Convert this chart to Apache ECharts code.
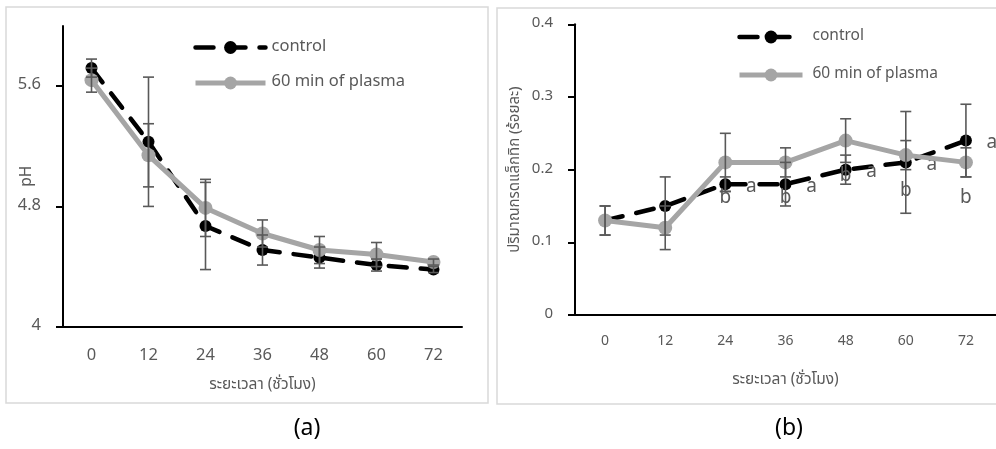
<!DOCTYPE html>
<html>
<head>
<meta charset="utf-8">
<script src="https://cdn.jsdelivr.net/npm/echarts@6/dist/echarts.min.js"></script>
<style>
  html, body { margin: 0; padding: 0; background: #fff; }
  #c { width: 996px; height: 449px; }
</style>
</head>
<body>
<div id="c"></div>
<script>
// Sampling times (hours)
const hours = ['0', '12', '24', '36', '48', '60', '72'];

// (a) pH
const phControl = [5.72, 5.23, 4.67, 4.51, 4.46, 4.41, 4.38];
const phControlErr = [0.06, 0.43, 0.29, 0.10, 0.07, 0.04, 0.02];
const phPlasma = [5.64, 5.14, 4.79, 4.62, 4.51, 4.48, 4.43];
const phPlasmaErr = [0.08, 0.21, 0.19, 0.09, 0.09, 0.08, 0.02];
const phTicks = [4, 4.8, 5.6];

// (b) lactic acid (%)
const lacControl = [0.13, 0.15, 0.18, 0.18, 0.20, 0.21, 0.24];
const lacControlErr = [0.02, 0.04, 0.01, 0.03, 0.02, 0.07, 0.05];
const lacPlasma = [0.13, 0.12, 0.21, 0.21, 0.24, 0.22, 0.21];
const lacPlasmaErr = [0.02, 0.03, 0.04, 0.02, 0.03, 0.02, 0.02];
const lacControlLetters = ['', '', 'a', 'a', 'a', 'a', 'a'];
const lacPlasmaLetters = ['', '', 'b', 'b', 'b', 'b', 'b'];
const lacTicks = [0, 0.1, 0.2, 0.3, 0.4];

const seriesNames = ['control', '60 min of plasma'];
const xTitle = 'ระยะเวลา (ชั่วโมง)';
const yTitleA = 'pH';
const yTitleB = 'ปริมาณกรดแล็กทิก (ร้อยละ)';

const FONT = '"Noto Sans Thai", "Noto Sans", "DejaVu Sans", sans-serif';
const TXT = '#595959';
const BLACK = '#000000';
const GREY = '#A5A5A5';
const CONTROL_DASH = [18, 14];

const chart = echarts.init(document.getElementById('c'), null, { renderer: 'canvas' });

function controlLine(data, xi, yi, letters) {
  return {
    name: seriesNames[0], type: 'line', xAxisIndex: xi, yAxisIndex: yi, z: 3,
    data: data.map((v, i) => ({
      value: v,
      label: letters && letters[i] ? { show: true, formatter: letters[i] } : { show: false }
    })),
    symbol: 'circle', symbolSize: 12,
    itemStyle: { color: BLACK },
    lineStyle: { color: BLACK, width: 4.5, type: CONTROL_DASH, cap: 'round' },
    label: {
      position: 'inside', offset: [26, 4],
      color: TXT, fontSize: 19, fontFamily: FONT
    },
    animation: false
  };
}

function plasmaLine(data, xi, yi, letters) {
  return {
    name: seriesNames[1], type: 'line', xAxisIndex: xi, yAxisIndex: yi, z: 4,
    data: data.map((v, i) => ({
      value: v,
      label: letters && letters[i] ? { show: true, formatter: letters[i] } : { show: false }
    })),
    symbol: 'circle', symbolSize: 14,
    itemStyle: { color: GREY },
    lineStyle: { color: GREY, width: 5 },
    label: {
      position: 'inside', offset: [0, 37],
      color: TXT, fontSize: 19, fontFamily: FONT
    },
    animation: false
  };
}

function errorBars(values, errs, xi, yi) {
  return {
    type: 'custom', xAxisIndex: xi, yAxisIndex: yi, z: 6, silent: true,
    data: values.map((v, i) => [i, v - errs[i], v + errs[i]]),
    encode: { x: 0, y: [1, 2] },
    renderItem(params, api) {
      const lo = api.coord([api.value(0), api.value(1)]);
      const hi = api.coord([api.value(0), api.value(2)]);
      const w = 5.5;
      const style = { stroke: '#595959', lineWidth: 1.6 };
      return {
        type: 'group',
        children: [
          { type: 'line', shape: { x1: lo[0], y1: lo[1], x2: hi[0], y2: hi[1] }, style },
          { type: 'line', shape: { x1: lo[0] - w, y1: lo[1], x2: lo[0] + w, y2: lo[1] }, style },
          { type: 'line', shape: { x1: hi[0] - w, y1: hi[1], x2: hi[0] + w, y2: hi[1] }, style }
        ]
      };
    },
    animation: false
  };
}

// Legend entries carry the full line weight of their series
const legendItems = [
  { name: seriesNames[0], lineStyle: { width: 4.5, type: CONTROL_DASH, cap: 'round', color: BLACK } },
  { name: seriesNames[1], lineStyle: { width: 5, color: GREY } }
];

const fmt = v => String(Math.round(v * 10) / 10);

chart.setOption({
  backgroundColor: '#fff',
  animation: false,
  textStyle: { fontFamily: FONT },
  grid: [
    { left: 63, top: 26, width: 399, height: 300.7 },
    { left: 575, top: 24.3, width: 425, height: 290.7 }
  ],
  xAxis: [
    {
      gridIndex: 0, type: 'category', data: hours, boundaryGap: true,
      axisLine: { lineStyle: { color: BLACK, width: 2 } },
      axisTick: { show: false },
      axisLabel: { color: TXT, fontSize: 16.5, margin: 21, fontFamily: FONT },
      name: xTitle, nameLocation: 'middle', nameGap: 51, nameMoveOverlap: false,
      nameTextStyle: { color: TXT, fontSize: 15.5, fontFamily: FONT }
    },
    {
      gridIndex: 1, type: 'category', data: hours, boundaryGap: true,
      axisLine: { lineStyle: { color: BLACK, width: 2 } },
      axisTick: { show: false },
      axisLabel: { color: TXT, fontSize: 14, margin: 20, fontFamily: FONT },
      name: xTitle, nameLocation: 'middle', nameGap: 58, nameMoveOverlap: false,
      nameTextStyle: { color: TXT, fontSize: 15.5, fontFamily: FONT }
    }
  ],
  yAxis: [
    {
      gridIndex: 0, type: 'value', min: 4, max: 6,
      splitLine: { show: false },
      axisLine: { show: true, lineStyle: { color: BLACK, width: 2 } },
      axisTick: { show: true, length: 7, customValues: phTicks, lineStyle: { color: BLACK, width: 2 } },
      axisLabel: { color: TXT, fontSize: 16.5, margin: 22, customValues: phTicks, formatter: fmt, fontFamily: FONT },
      name: yTitleA, nameLocation: 'middle', nameGap: 27, nameRotate: 90, nameMoveOverlap: false,
      nameTextStyle: { color: TXT, fontSize: 15.5, fontFamily: FONT }
    },
    {
      gridIndex: 1, type: 'value', min: 0, max: 0.4,
      splitLine: { show: false },
      axisLine: { show: true, lineStyle: { color: BLACK, width: 2 } },
      axisTick: { show: true, length: 7, customValues: lacTicks, lineStyle: { color: BLACK, width: 2 } },
      axisLabel: { color: TXT, fontSize: 15, margin: 22, customValues: lacTicks, formatter: fmt, fontFamily: FONT },
      name: yTitleB, nameLocation: 'middle', nameGap: 52, nameRotate: 90, nameMoveOverlap: false,
      nameTextStyle: { color: TXT, fontSize: 15, fontFamily: FONT }
    }
  ],
  legend: [
    {
      orient: 'vertical', left: 193, top: 39, padding: 0, itemWidth: 70, itemHeight: 16, itemGap: 18.5,
      data: legendItems, selectedMode: false,
      textStyle: { color: TXT, fontSize: 16.5, fontFamily: FONT, padding: [0, 0, 0, 1] }
    },
    {
      orient: 'vertical', left: 737, top: 29, padding: 0, itemWidth: 63, itemHeight: 16, itemGap: 22,
      data: legendItems, selectedMode: false,
      textStyle: { color: TXT, fontSize: 15.5, fontFamily: FONT, padding: [0, 0, 0, 5] }
    }
  ],
  graphic: [
    { type: 'rect', shape: { x: 6, y: 7, width: 482, height: 396 }, style: { fill: 'none', stroke: '#D9D9D9', lineWidth: 1.5 }, z: -10 },
    { type: 'rect', shape: { x: 497, y: 8, width: 510, height: 396 }, style: { fill: 'none', stroke: '#D9D9D9', lineWidth: 1.5 }, z: -10 },
    { type: 'text', x: 307, y: 430, style: { text: '(a)', fill: '#000', fontSize: 23, fontFamily: FONT, textAlign: 'center', textVerticalAlign: 'middle' } },
    { type: 'text', x: 789, y: 430, style: { text: '(b)', fill: '#000', fontSize: 23, fontFamily: FONT, textAlign: 'center', textVerticalAlign: 'middle' } }
  ],
  series: [
    controlLine(phControl, 0, 0, null),
    plasmaLine(phPlasma, 0, 0, null),
    errorBars(phControl, phControlErr, 0, 0),
    errorBars(phPlasma, phPlasmaErr, 0, 0),
    controlLine(lacControl, 1, 1, lacControlLetters),
    plasmaLine(lacPlasma, 1, 1, lacPlasmaLetters),
    errorBars(lacControl, lacControlErr, 1, 1),
    errorBars(lacPlasma, lacPlasmaErr, 1, 1)
  ]
});
</script>
</body>
</html>
